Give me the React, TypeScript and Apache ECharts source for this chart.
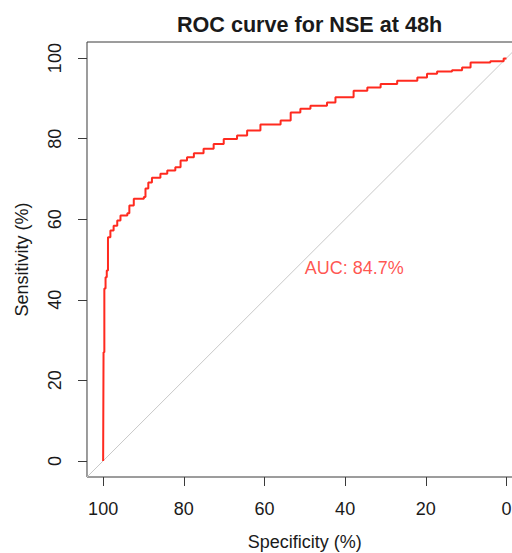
import React, { useEffect, useRef } from "react";
import * as echarts from "echarts";

const TITLE = "ROC curve for NSE at 48h";
const X_NAME = "Specificity (%)";
const Y_NAME = "Sensitivity (%)";
const TICKS = [0, 20, 40, 60, 80, 100];
const AUC_LABEL = "AUC: 84.7%";
const AUC_POS = [50, 50];

// ROC curve: specificity (%) and sensitivity (%)
const specificity = [
  100, 99.9, 99.7, 99.4, 99.1, 98.8, 98.2, 97.4, 96.5, 95.7, 94.0, 93.5, 92.4,
  89.9, 89.5, 88.8, 87.9, 85.8, 84.1, 82.1, 80.8, 79.2, 77.5, 75.1, 72.6, 70.1,
  66.8, 64.3, 61.0, 56.0, 53.5, 51.1, 48.6, 44.5, 42.4, 37.9, 34.5, 31.2, 27.1,
  22.1, 19.7, 17.2, 13.5, 11.0, 8.9, 4.0, 0.7, 0,
];
const sensitivity = [
  0, 27.0, 42.8, 45.6, 47.3, 55.5, 57.2, 58.4, 59.7, 60.9, 61.5, 63.4, 65.1,
  65.5, 67.6, 69.1, 70.3, 71.3, 72.1, 72.9, 74.6, 75.4, 76.4, 77.5, 78.7, 79.9,
  80.8, 82.0, 83.5, 84.5, 86.5, 87.4, 88.2, 89.0, 90.3, 91.9, 92.7, 93.6, 94.4,
  95.2, 96.1, 96.7, 97.0, 97.7, 98.9, 99.2, 99.9, 100,
];
// chance diagonal (sensitivity + specificity = 100) across the plot range
const diagX = [104, -4];
const diagY = [-4, 104];

const FONT = "'Liberation Sans', Arial, Helvetica, sans-serif";
const TXT = "#1a1a1a";
const LINE = "#3a3a3a";
const RED = "#ff2a1f";

export default function App() {
  const ref = useRef<HTMLDivElement>(null);
  useEffect(() => {
    if (!ref.current) return;
    const chart = echarts.init(ref.current, undefined, { renderer: "svg" });
    const roc = specificity.map((s, i) => [s, sensitivity[i]]);
    const diag = diagX.map((x, i) => [x, diagY[i]]);
    chart.setOption({
      animation: false,
      backgroundColor: "#ffffff",
      textStyle: { fontFamily: FONT },
      title: {
        text: TITLE,
        left: 304.5,
        textAlign: "center",
        top: 8,
        textStyle: { fontFamily: FONT, fontSize: 21.6, fontWeight: "bold", color: TXT },
      },
      grid: {
        left: 87,
        top: 42,
        width: 435.6,
        height: 435,
        containLabel: false,
        outerBoundsMode: "none",
        show: true,
        borderColor: LINE,
        borderWidth: 1,
        backgroundColor: "transparent",
      },
      xAxis: {
        type: "value",
        min: -4,
        max: 104,
        inverse: true,
        name: X_NAME,
        nameLocation: "middle",
        nameGap: 56,
        nameTextStyle: { fontFamily: FONT, fontSize: 18, color: TXT },
        axisLine: { show: false, onZero: false },
        splitLine: { show: false },
        axisTick: { show: true, inside: false, length: 9, customValues: TICKS, lineStyle: { color: LINE } },
        axisLabel: {
          customValues: TICKS,
          margin: 23,
          fontFamily: FONT,
          fontSize: 18,
          color: TXT,
        },
      },
      yAxis: {
        type: "value",
        min: -4,
        max: 104,
        name: Y_NAME,
        nameLocation: "middle",
        nameGap: 56,
        nameRotate: 90,
        nameTextStyle: { fontFamily: FONT, fontSize: 18, color: TXT },
        axisLine: { show: false, onZero: false },
        splitLine: { show: false },
        axisTick: { show: true, inside: false, length: 9, customValues: TICKS, lineStyle: { color: LINE } },
        axisLabel: {
          customValues: TICKS,
          rotate: 90,
          margin: 23,
          fontFamily: FONT,
          fontSize: 18,
          color: TXT,
        },
      },
      series: [
        {
          type: "line",
          data: diag,
          symbol: "none",
          lineStyle: { color: "#c8c8c8", width: 1 },
          z: 1,
        },
        {
          type: "line",
          data: roc,
          step: "end",
          symbol: "none",
          lineStyle: { color: RED, width: 2 },
          z: 3,
        },
        {
          type: "scatter",
          data: [AUC_POS],
          symbolSize: 0.1,
          itemStyle: { color: "transparent" },
          label: {
            show: true,
            formatter: AUC_LABEL,
            position: [0, 0],
            align: "left",
            verticalAlign: "top",
            fontFamily: FONT,
            fontSize: 18,
            color: RED,
          },
          z: 4,
        },
      ],
    });
    return () => chart.dispose();
  }, []);
  return (
    <div
      ref={ref}
      style={{ position: "absolute", left: 0, top: 0, width: 512, height: 553, background: "#fff" }}
    />
  );
}
